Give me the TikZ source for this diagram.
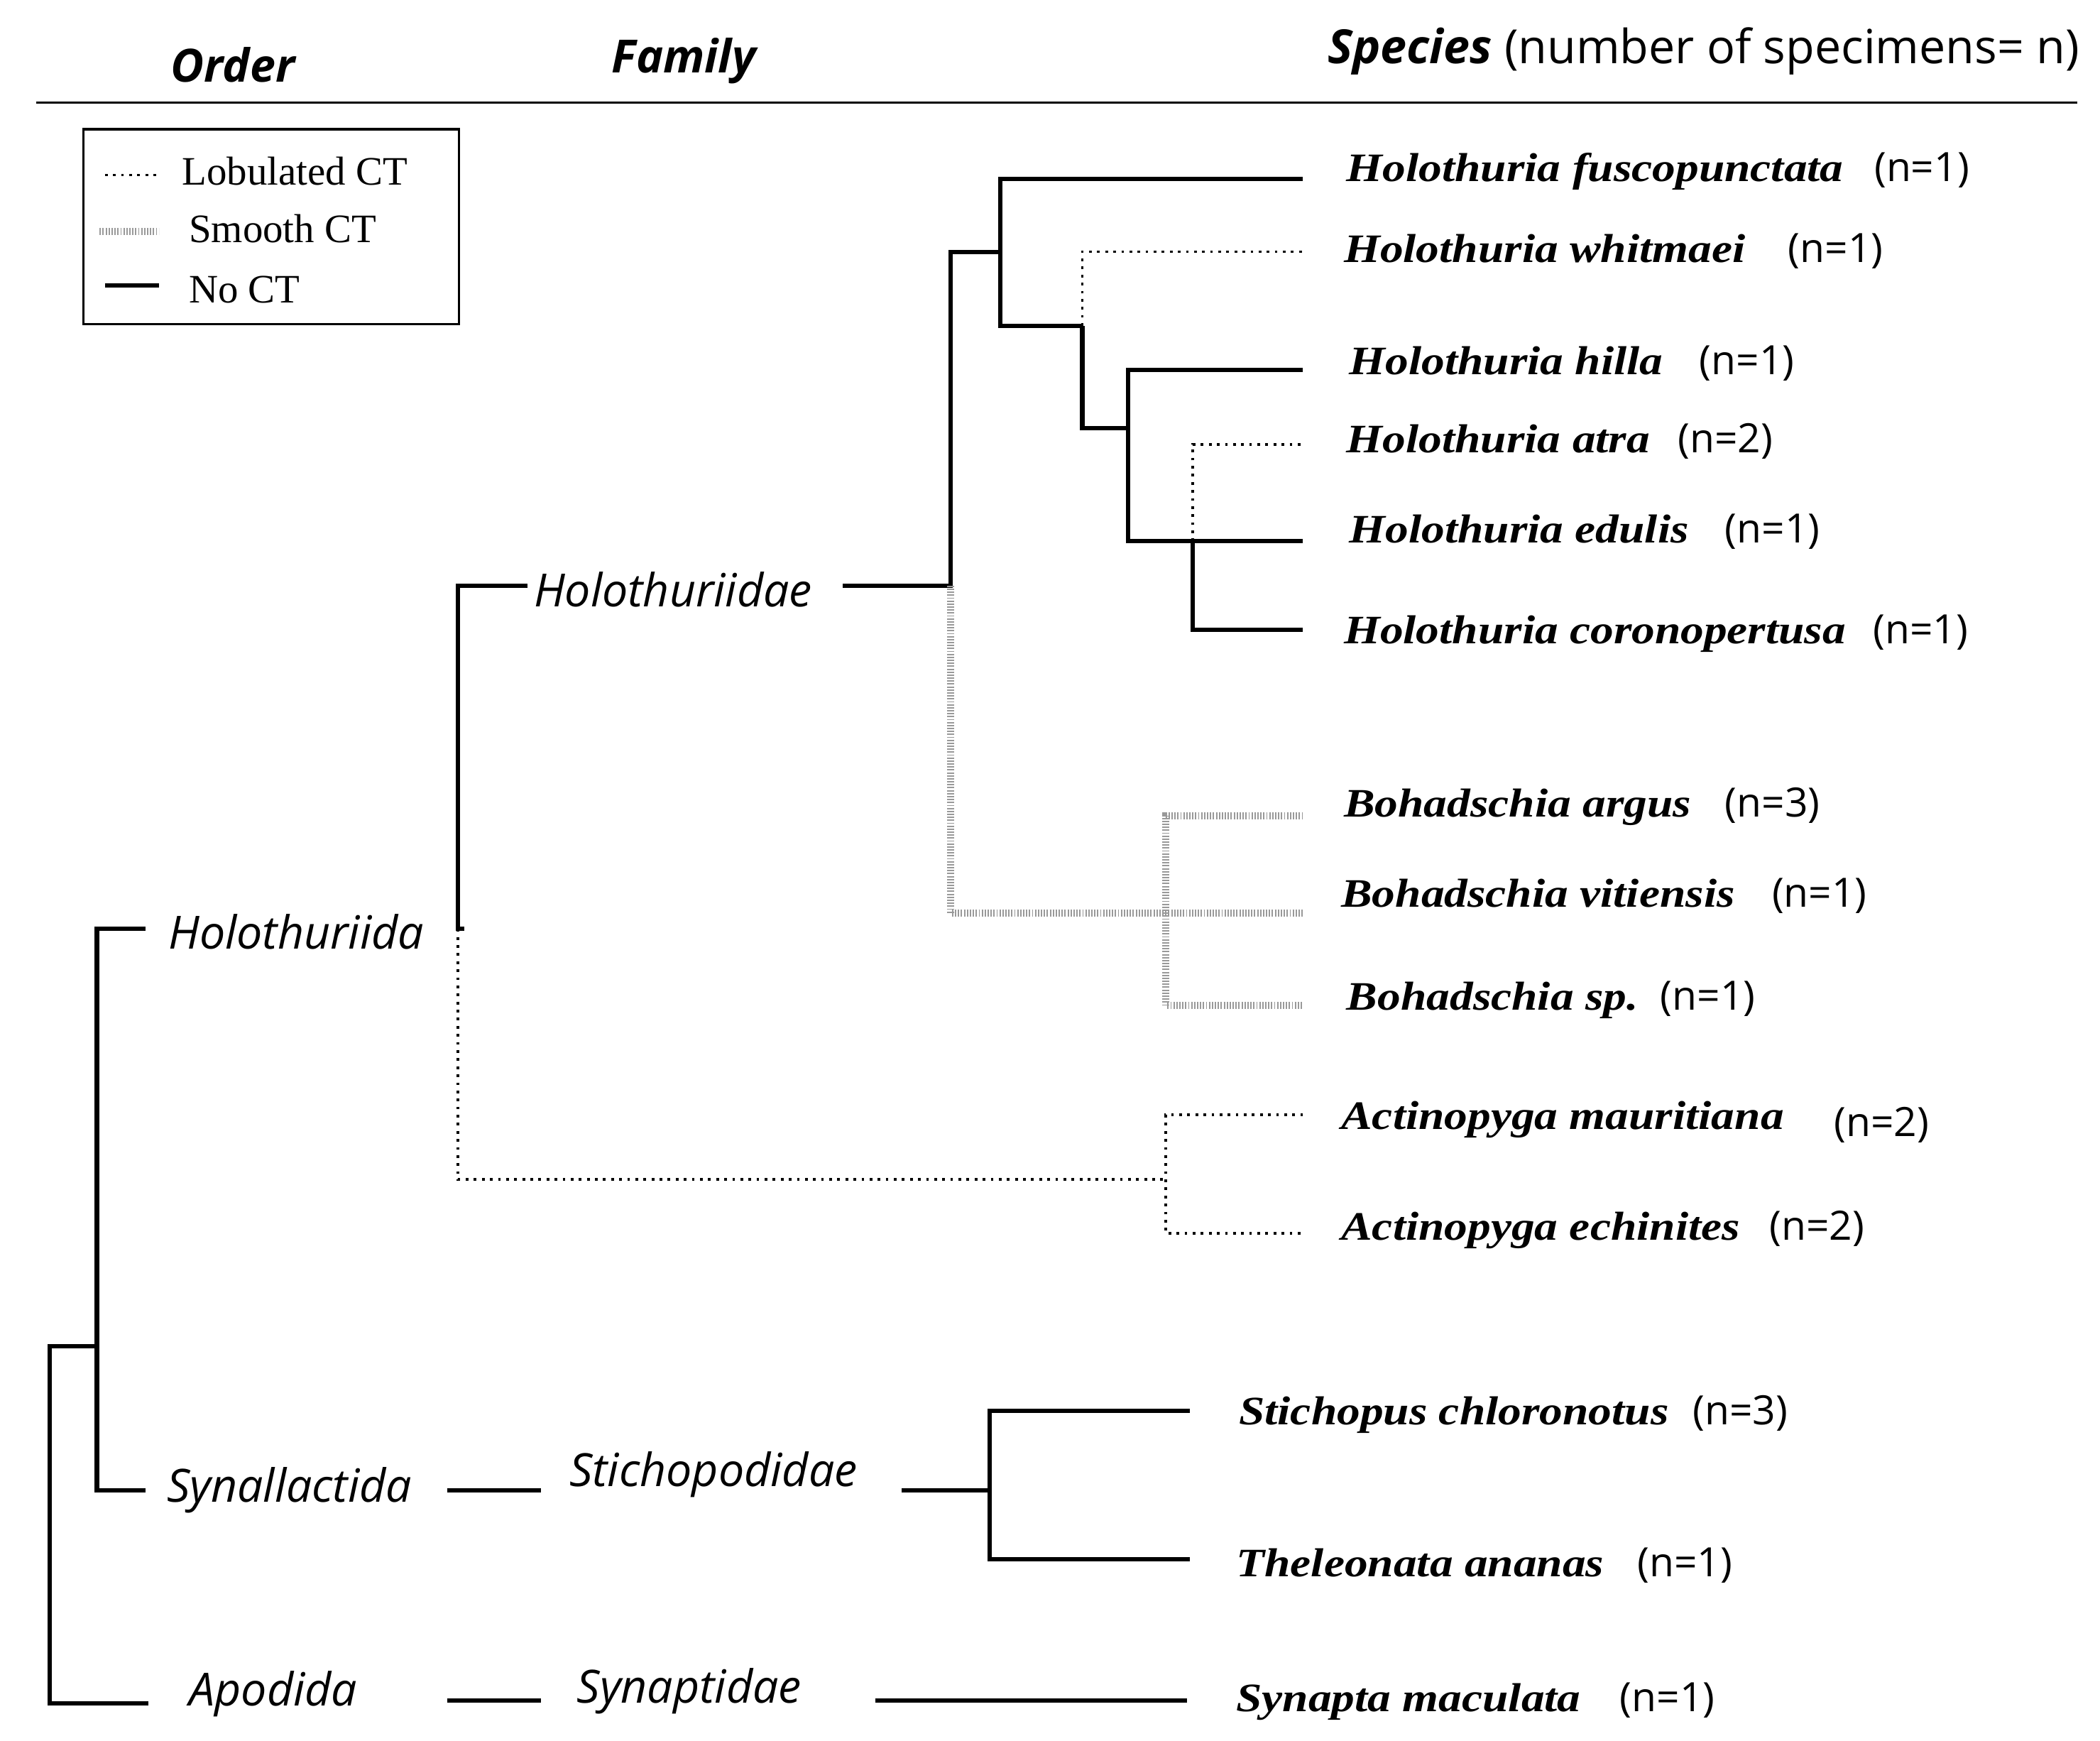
\documentclass[tikz,border=0pt]{standalone}
\usepackage{fontspec}
\setmainfont{Liberation Serif}
\newfontfamily\sansf{Open Sans}
\newfontfamily\spf{Liberation Serif}[FakeStretch=1.15]
\begin{document}
\begin{tikzpicture}[x=0.5pt,y=-0.5pt,
  solid/.style={line width=1.6pt},
  dot/.style={line width=1pt,dotted},
  hatch/.style={draw=gray!80,line width=2.6pt,dash pattern=on 0.5pt off 0.6pt},
  sp/.style={anchor=base west,font=\spf\fontsize{15}{15}\selectfont\bfseries\itshape,inner sep=0},
  nn/.style={anchor=base west,font=\sansf\fontsize{15}{15}\selectfont,inner sep=0},
  tax/.style={font=\sansf\fontsize{17}{17}\selectfont\itshape,inner sep=0},
  hd/.style={font=\sansf\fontsize{17}{17}\selectfont\bfseries\itshape,inner sep=0}]
\useasboundingbox (0,0) rectangle (1560,1293);
% header
\node[hd] (ho) at (173,48) {Order};
\node[hd] (hf) at (508,45) {Family};
\node[anchor=east,inner sep=0,font=\sansf\fontsize{17.5}{17.5}\selectfont] (hs) at (1545,38) {\textbf{\textit{Species}} (number of specimens= n)};
\draw[line width=0.8pt] (27,76) -- (1543,76);
% legend
\draw[line width=0.8pt] (62,96) rectangle (341,241);
\draw[dot] (78,130) -- (118,130);
\node[anchor=west,font=\fontsize{15}{15}\selectfont,inner sep=0] (l1) at (135,127) {Lobulated CT};
\draw[hatch] (74,172) -- (118,172);
\node[anchor=west,font=\fontsize{15}{15}\selectfont,inner sep=0] (l2) at (140,170) {Smooth CT};
\draw[solid] (78,212) -- (118,212);
\node[anchor=west,font=\fontsize{15}{15}\selectfont,inner sep=0] (l3) at (140,215) {No CT};
% tree solid
\draw[solid] (110,1265) -| (37,1000) -- (72,1000);
\draw[solid] (108,690) -| (72,1107) -- (108,1107);
\draw[solid] (392,435) -| (340,690) -- (345,690);
\draw[solid] (626,435) -- (706,435) |- (743,187);
\draw[solid] (968,133) -| (743,242) -- (804,242);
\draw[solid] (804,242) |- (838,318);
\draw[solid] (968,275) -| (838,402) -- (968,402);
\draw[solid] (886,402) |- (968,468);
\draw[solid] (332,1107) -- (402,1107);
\draw[solid] (670,1107) -- (735,1107);
\draw[solid] (884,1048) -| (735,1158) -- (884,1158);
\draw[solid] (332,1263) -- (402,1263);
\draw[solid] (650,1263) -- (882,1263);
% dotted
\draw[dot] (804,242) |- (968,187);
\draw[dot] (886,402) |- (968,330);
\draw[dot] (340,690) |- (866,876);
\draw[dot] (968,828) -| (866,916) -- (968,916);
% hatched
\draw[hatch] (706,435) |- (968,678);
\draw[hatch] (968,606) -| (866,747) -- (968,747);
% labels
\node[tax] (o1) at (220,692) {Holothuriida};
\node[tax] (o2) at (215,1107) {Synallactida};
\node[tax] (o3) at (203,1258) {Apodida};
\node[tax] (f1) at (500,438) {Holothuriidae};
\node[tax] (f2) at (530,1095) {Stichopodidae};
\node[tax] (f3) at (512,1256) {Synaptidae};
% species
\node[sp] (s1) at (1000,135) {Holothuria fuscopunctata}; \node[nn] (n1) at (1392,135) {(n=1)};
\node[sp] (s2) at (998,195) {Holothuria whitmaei}; \node[nn] (n2) at (1328,195) {(n=1)};
\node[sp] (s3) at (1002,278) {Holothuria hilla}; \node[nn] (n3) at (1262,278) {(n=1)};
\node[sp] (s4) at (1000,336) {Holothuria atra}; \node[nn] (n4) at (1246,336) {(n=2)};
\node[sp] (s5) at (1002,403) {Holothuria edulis}; \node[nn] (n5) at (1281,403) {(n=1)};
\node[sp] (s6) at (998,478) {Holothuria coronopertusa}; \node[nn] (n6) at (1391,478) {(n=1)};
\node[sp] (s7) at (998,607) {Bohadschia argus}; \node[nn] (n7) at (1281,607) {(n=3)};
\node[sp] (s8) at (996,674) {Bohadschia vitiensis}; \node[nn] (n8) at (1316,674) {(n=1)};
\node[sp] (s9) at (1000,750) {Bohadschia sp.}; \node[nn] (n9) at (1233,750) {(n=1)};
\node[sp] (s10) at (996,839) {Actinopyga mauritiana}; \node[nn] (n10) at (1362,844) {(n=2)};
\node[sp] (s11) at (996,921) {Actinopyga echinites}; \node[nn] (n11) at (1314,921) {(n=2)};
\node[sp] (s12) at (920,1058) {Stichopus chloronotus}; \node[nn] (n12) at (1257,1058) {(n=3)};
\node[sp] (s13) at (918,1171) {Theleonata ananas}; \node[nn] (n13) at (1216,1171) {(n=1)};
\node[sp] (s14) at (918,1271) {Synapta maculata}; \node[nn] (n14) at (1203,1271) {(n=1)};
\end{tikzpicture}
\end{document}
